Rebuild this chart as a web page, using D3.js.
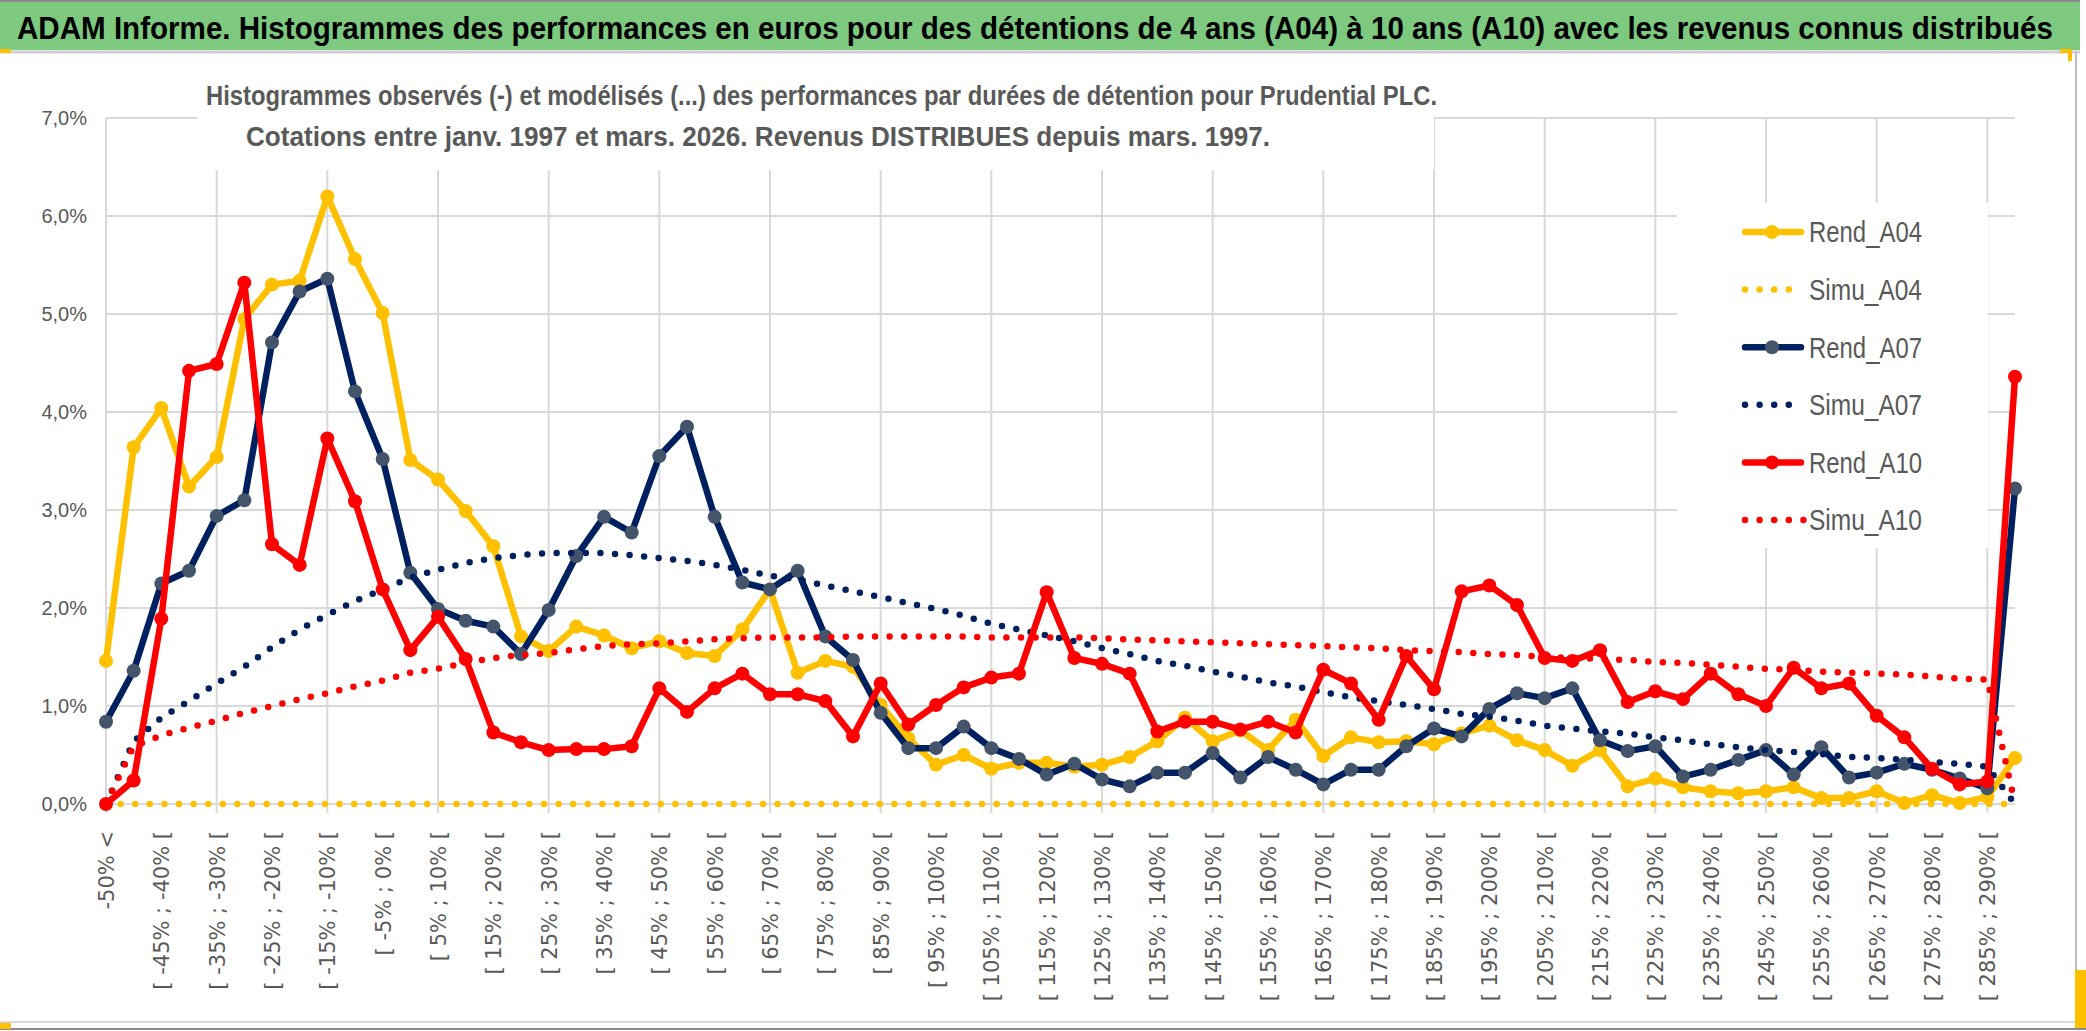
<!DOCTYPE html>
<html lang="fr">
<head>
<meta charset="utf-8">
<script src="https://cdn.jsdelivr.net/npm/d3@7"></script>
<style>
  body { margin: 0; background: #fff; }
  svg { display: block; }
</style>
</head>
<body>
<div id="chart"></div>
<script>
// ------------------------------------------------------------
// Data (values in %)
// ------------------------------------------------------------
const categories = [
  "-50% <",
  "[ -50% ; -45% [", "[ -45% ; -40% [", "[ -40% ; -35% [", "[ -35% ; -30% [",
  "[ -30% ; -25% [", "[ -25% ; -20% [", "[ -20% ; -15% [", "[ -15% ; -10% [",
  "[ -10% ; -5% [", "[ -5% ; 0% [", "[ 0% ; 5% [", "[ 5% ; 10% [",
  "[ 10% ; 15% [", "[ 15% ; 20% [", "[ 20% ; 25% [", "[ 25% ; 30% [",
  "[ 30% ; 35% [", "[ 35% ; 40% [", "[ 40% ; 45% [", "[ 45% ; 50% [",
  "[ 50% ; 55% [", "[ 55% ; 60% [", "[ 60% ; 65% [", "[ 65% ; 70% [",
  "[ 70% ; 75% [", "[ 75% ; 80% [", "[ 80% ; 85% [", "[ 85% ; 90% [",
  "[ 90% ; 95% [", "[ 95% ; 100% [", "[ 100% ; 105% [", "[ 105% ; 110% [",
  "[ 110% ; 115% [", "[ 115% ; 120% [", "[ 120% ; 125% [", "[ 125% ; 130% [",
  "[ 130% ; 135% [", "[ 135% ; 140% [", "[ 140% ; 145% [", "[ 145% ; 150% [",
  "[ 150% ; 155% [", "[ 155% ; 160% [", "[ 160% ; 165% [", "[ 165% ; 170% [",
  "[ 170% ; 175% [", "[ 175% ; 180% [", "[ 180% ; 185% [", "[ 185% ; 190% [",
  "[ 190% ; 195% [", "[ 195% ; 200% [", "[ 200% ; 205% [", "[ 205% ; 210% [",
  "[ 210% ; 215% [", "[ 215% ; 220% [", "[ 220% ; 225% [", "[ 225% ; 230% [",
  "[ 230% ; 235% [", "[ 235% ; 240% [", "[ 240% ; 245% [", "[ 245% ; 250% [",
  "[ 250% ; 255% [", "[ 255% ; 260% [", "[ 260% ; 265% [", "[ 265% ; 270% [",
  "[ 270% ; 275% [", "[ 275% ; 280% [", "[ 280% ; 285% [", "[ 285% ; 290% [",
  "> 290%"
];

const rendA04 = [
  1.46, 3.64, 4.04, 3.24, 3.54, 4.95, 5.30, 5.34, 6.20, 5.56,
  5.01, 3.51, 3.31, 2.99, 2.63, 1.71, 1.56, 1.81, 1.72, 1.59,
  1.66, 1.54, 1.51, 1.78, 2.19, 1.34, 1.46, 1.40, 1.01, 0.67,
  0.40, 0.50, 0.36, 0.42, 0.42, 0.38, 0.40, 0.48, 0.64, 0.88,
  0.64, 0.75, 0.55, 0.86, 0.49, 0.68, 0.63, 0.64, 0.61, 0.72,
  0.80, 0.65, 0.55, 0.39, 0.55, 0.18, 0.26, 0.17, 0.13, 0.11,
  0.13, 0.17, 0.06, 0.06, 0.13, 0.01, 0.09, 0.01, 0.07, 0.47
];

const simuA04 = [
  0, 0, 0, 0, 0, 0, 0, 0, 0, 0,
  0, 0, 0, 0, 0, 0, 0, 0, 0, 0,
  0, 0, 0, 0, 0, 0, 0, 0, 0, 0,
  0, 0, 0, 0, 0, 0, 0, 0, 0, 0,
  0, 0, 0, 0, 0, 0, 0, 0, 0, 0,
  0, 0, 0, 0, 0, 0, 0, 0, 0, 0,
  0, 0, 0, 0, 0, 0, 0, 0, 0, 0
];

const rendA07 = [
  0.84, 1.36, 2.25, 2.38, 2.94, 3.10, 4.71, 5.23, 5.36, 4.21,
  3.52, 2.36, 1.99, 1.87, 1.81, 1.53, 1.98, 2.53, 2.93, 2.77,
  3.55, 3.85, 2.93, 2.26, 2.19, 2.38, 1.71, 1.47, 0.93, 0.57,
  0.57, 0.79, 0.57, 0.46, 0.30, 0.41, 0.25, 0.18, 0.32, 0.32,
  0.52, 0.27, 0.48, 0.35, 0.20, 0.35, 0.35, 0.59, 0.77, 0.69,
  0.97, 1.13, 1.08, 1.18, 0.65, 0.54, 0.59, 0.28, 0.35, 0.45,
  0.55, 0.30, 0.58, 0.27, 0.32, 0.41, 0.35, 0.26, 0.16, 3.22
];

const simuA07 = [
  0.00, 0.64, 0.88, 1.05, 1.23, 1.40, 1.60, 1.78, 1.93, 2.07,
  2.19, 2.31, 2.39, 2.46, 2.51, 2.54, 2.56, 2.56, 2.56, 2.54,
  2.51, 2.48, 2.44, 2.39, 2.33, 2.29, 2.23, 2.17, 2.11, 2.05,
  1.99, 1.92, 1.84, 1.78, 1.72, 1.66, 1.59, 1.53, 1.46, 1.41,
  1.35, 1.30, 1.24, 1.20, 1.14, 1.09, 1.05, 1.01, 0.97, 0.92,
  0.89, 0.85, 0.80, 0.77, 0.74, 0.72, 0.68, 0.65, 0.61, 0.58,
  0.55, 0.53, 0.51, 0.48, 0.47, 0.45, 0.43, 0.41, 0.38, 0.00
];

const rendA10 = [
  0.00, 0.24, 1.89, 4.42, 4.49, 5.32, 2.65, 2.44, 3.73, 3.09,
  2.19, 1.57, 1.91, 1.48, 0.73, 0.63, 0.55, 0.56, 0.56, 0.59,
  1.18, 0.94, 1.18, 1.33, 1.12, 1.12, 1.05, 0.69, 1.23, 0.81,
  1.01, 1.19, 1.29, 1.33, 2.16, 1.49, 1.43, 1.33, 0.74, 0.84,
  0.84, 0.76, 0.84, 0.73, 1.37, 1.23, 0.86, 1.51, 1.17, 2.17,
  2.23, 2.03, 1.49, 1.46, 1.57, 1.04, 1.15, 1.07, 1.33, 1.12,
  1.00, 1.39, 1.18, 1.23, 0.90, 0.68, 0.36, 0.20, 0.23, 4.36
];

const simuA10 = [
  0.00, 0.59, 0.70, 0.78, 0.85, 0.93, 1.00, 1.07, 1.13, 1.20,
  1.26, 1.34, 1.38, 1.44, 1.49, 1.52, 1.54, 1.58, 1.61, 1.63,
  1.64, 1.66, 1.68, 1.69, 1.70, 1.70, 1.70, 1.71, 1.71, 1.71,
  1.71, 1.71, 1.70, 1.70, 1.70, 1.70, 1.69, 1.68, 1.67, 1.66,
  1.65, 1.64, 1.63, 1.62, 1.61, 1.60, 1.59, 1.57, 1.56, 1.55,
  1.53, 1.52, 1.50, 1.49, 1.48, 1.47, 1.45, 1.44, 1.42, 1.40,
  1.38, 1.37, 1.35, 1.34, 1.33, 1.32, 1.30, 1.28, 1.27, 0.00
];

const yTicks = [0, 1, 2, 3, 4, 5, 6, 7];

const seriesNames = ["Rend_A04", "Simu_A04", "Rend_A07", "Simu_A07", "Rend_A10", "Simu_A10"];

const titleText = "ADAM Informe. Histogrammes des performances en euros pour des détentions de 4 ans (A04) à 10 ans (A10) avec les revenus connus distribués";
const subTitle1 = "Histogrammes observés (-) et modélisés (...) des performances par durées de détention pour Prudential PLC.";
const subTitle2 = "Cotations entre janv. 1997 et mars. 2026. Revenus DISTRIBUES depuis mars. 1997.";

// ------------------------------------------------------------
// Setup
// ------------------------------------------------------------
const W = 2086, H = 1031;
const plot = { left: 106, right: 2015, top: 118, bottom: 804 };
const grey = "#595959";
const gridColor = "#d9d9d9";

const series = [
  { name: seriesNames[0], values: rendA04, color: "#FFC000", marker: "#FFC000", dotted: false },
  { name: seriesNames[1], values: simuA04, color: "#FFC000", dotted: true },
  { name: seriesNames[2], values: rendA07, color: "#002060", marker: "#44546A", dotted: false },
  { name: seriesNames[3], values: simuA07, color: "#002060", dotted: true },
  { name: seriesNames[4], values: rendA10, color: "#FF0000", marker: "#FF0000", dotted: false },
  { name: seriesNames[5], values: simuA10, color: "#FF0000", dotted: true }
];

const svg = d3.select("#chart").append("svg")
  .attr("width", W)
  .attr("height", H)
  .style("font-family", "'Liberation Sans', Arial, sans-serif");

const x = d3.scalePoint()
  .domain(categories)
  .range([plot.left, plot.right]);

const y = d3.scaleLinear()
  .domain([0, 7])
  .range([plot.bottom, plot.top]);

const fr = d3.formatLocale({ decimal: ",", thousands: " ", grouping: [3], currency: ["", " €"] });
const fmt = fr.format(".1f");

// ------------------------------------------------------------
// Frame: green title bar, borders
// ------------------------------------------------------------
svg.append("rect").attr("x", 0).attr("y", 0).attr("width", 2080).attr("height", 50)
  .attr("fill", "#7DC97F");
svg.append("rect").attr("x", 0).attr("y", 0).attr("width", 2080).attr("height", 2)
  .attr("fill", "#8a8a8a");
svg.append("line").attr("x1", 0).attr("x2", 2080).attr("y1", 52).attr("y2", 52)
  .attr("stroke", "#d0d0d0").attr("stroke-width", 3);
svg.append("line").attr("x1", 2076).attr("x2", 2076).attr("y1", 52).attr("y2", 1028)
  .attr("stroke", "#bdbdbd").attr("stroke-width", 2);
svg.append("line").attr("x1", 0).attr("x2", 2076).attr("y1", 1022).attr("y2", 1022)
  .attr("stroke", "#d9d9d9").attr("stroke-width", 2);
svg.append("line").attr("x1", 0).attr("x2", 2086).attr("y1", 1029).attr("y2", 1029)
  .attr("stroke", "#8a8a8a").attr("stroke-width", 2);
// selection handles
svg.append("rect").attr("x", 0).attr("y", 49).attr("width", 11).attr("height", 4).attr("fill", "#FFC000");
svg.append("rect").attr("x", 2060).attr("y", 49).attr("width", 12).attr("height", 4).attr("fill", "#FFC000");
svg.append("rect").attr("x", 2068).attr("y", 49).attr("width", 4).attr("height", 12).attr("fill", "#FFC000");
svg.append("rect").attr("x", 0).attr("y", 1023).attr("width", 11).attr("height", 6).attr("fill", "#FFC000");
svg.append("rect").attr("x", 2075).attr("y", 970).attr("width", 11).attr("height", 58).attr("fill", "#FFC000");

// title: narrow font look, stretched vertically like the original
svg.append("text")
  .attr("transform", "translate(17,39) scale(1,1.12)")
  .attr("textLength", 2036).attr("lengthAdjust", "spacingAndGlyphs")
  .style("font-weight", "bold").style("font-size", "28px")
  .attr("fill", "#000")
  .text(titleText);

// ------------------------------------------------------------
// Grid
// ------------------------------------------------------------
const grid = svg.append("g").attr("class", "grid");

grid.selectAll("line.h").data(yTicks).join("line")
  .attr("class", "h")
  .attr("x1", plot.left).attr("x2", plot.right)
  .attr("y1", d => y(d)).attr("y2", d => y(d))
  .attr("stroke", gridColor).attr("stroke-width", 2);

const vTicks = categories.filter((c, i) => i % 4 === 0);
grid.selectAll("line.v").data(vTicks).join("line")
  .attr("class", "v")
  .attr("x1", d => x(d)).attr("x2", d => x(d))
  .attr("y1", plot.top).attr("y2", plot.bottom + 9)
  .attr("stroke", gridColor).attr("stroke-width", 2);

// ------------------------------------------------------------
// Axes
// ------------------------------------------------------------
const yAxis = d3.axisLeft(y)
  .tickValues(yTicks)
  .tickSize(0)
  .tickPadding(19)
  .tickFormat(d => fmt(d) + "%");

svg.append("g")
  .attr("transform", `translate(${plot.left},0)`)
  .call(yAxis)
  .call(g => g.select(".domain").remove())
  .selectAll("text")
  .style("font-size", "20px")
  .attr("fill", grey);

const xAxis = d3.axisBottom(x)
  .tickValues(categories.filter((c, i) => i % 2 === 0))
  .tickSize(0);

svg.append("g")
  .attr("transform", `translate(0,${plot.bottom})`)
  .call(xAxis)
  .call(g => g.select(".domain").remove())
  .selectAll("text")
  .attr("transform", "rotate(-90)")
  .attr("x", -27)
  .attr("y", 0)
  .attr("dy", "0.36em")
  .attr("text-anchor", "end")
  .style("font-family", "'DejaVu Sans', Verdana, sans-serif")
  .style("font-size", "21px")
  .attr("fill", grey);

// ------------------------------------------------------------
// Subtitle (white box over the grid)
// ------------------------------------------------------------
svg.append("rect").attr("x", 198).attr("y", 60).attr("width", 1236).attr("height", 110).attr("fill", "#fff");
svg.append("text")
  .attr("x", 206).attr("y", 105)
  .attr("textLength", 1231).attr("lengthAdjust", "spacingAndGlyphs")
  .style("font-weight", "bold").style("font-size", "27px")
  .attr("fill", grey)
  .text(subTitle1);
svg.append("text")
  .attr("x", 246).attr("y", 146)
  .attr("textLength", 1024).attr("lengthAdjust", "spacingAndGlyphs")
  .style("font-weight", "bold").style("font-size", "27px")
  .attr("fill", grey)
  .text(subTitle2);

// ------------------------------------------------------------
// Lines
// ------------------------------------------------------------
const line = d3.line()
  .x((d, i) => x(categories[i]))
  .y(d => y(d));

const lines = svg.append("g").attr("class", "series");

series.forEach(s => {
  const g = lines.append("g");
  g.append("path")
    .datum(s.values)
    .attr("d", line)
    .attr("fill", "none")
    .attr("stroke", s.color)
    .attr("stroke-width", 6.5)
    .attr("stroke-linejoin", "round")
    .attr("stroke-linecap", "round")
    .attr("stroke-dasharray", s.dotted ? "0 14.6" : null);

  if (!s.dotted) {
    g.selectAll("circle").data(s.values).join("circle")
      .attr("cx", (d, i) => x(categories[i]))
      .attr("cy", d => y(d))
      .attr("r", 7)
      .attr("fill", s.marker);
  }
});

// ------------------------------------------------------------
// Legend
// ------------------------------------------------------------
const legend = svg.append("g").attr("class", "legend");
legend.append("rect")
  .attr("x", 1677).attr("y", 203).attr("width", 311).attr("height", 345)
  .attr("fill", "#fff");

const legY = d3.scalePoint().domain(seriesNames).range([232, 520]);

series.forEach((s, k) => {
  const cy = legY(s.name);
  if (s.dotted) {
    legend.append("line")
      .attr("x1", 1745).attr("x2", k === 5 ? 1804 : 1790)
      .attr("y1", cy).attr("y2", cy)
      .attr("stroke", s.color).attr("stroke-width", 6.5)
      .attr("stroke-linecap", "round")
      .attr("stroke-dasharray", "0 14.6");
  } else {
    legend.append("line")
      .attr("x1", 1745).attr("x2", 1801)
      .attr("y1", cy).attr("y2", cy)
      .attr("stroke", s.color).attr("stroke-width", 6.5)
      .attr("stroke-linecap", "round");
    legend.append("circle")
      .attr("cx", 1772).attr("cy", cy).attr("r", 7)
      .attr("fill", s.marker);
  }
  legend.append("text")
    .attr("x", 1809).attr("y", cy)
    .attr("dy", "0.36em")
    .attr("textLength", 113).attr("lengthAdjust", "spacingAndGlyphs")
    .style("font-size", "29px")
    .attr("fill", grey)
    .text(s.name);
});
</script>
</body>
</html>
